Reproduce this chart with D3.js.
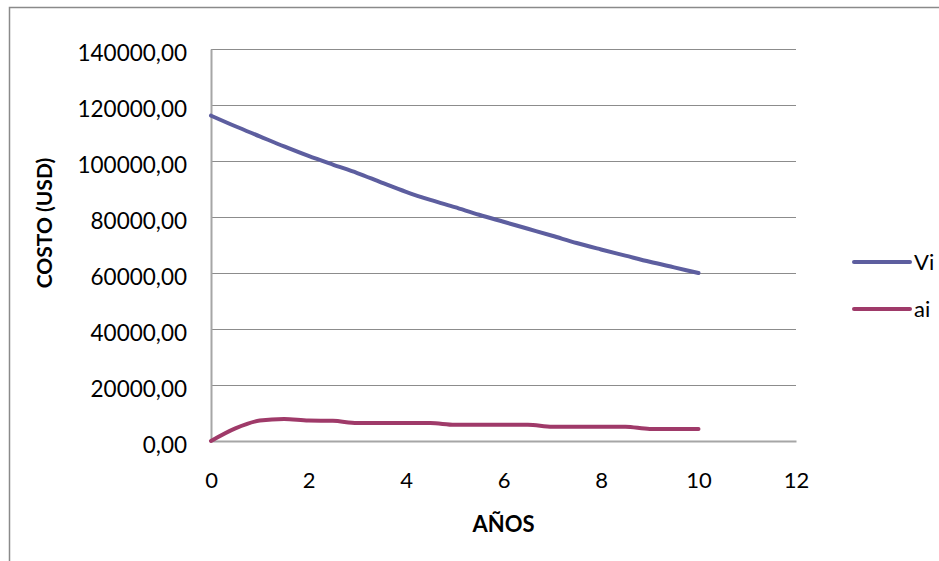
<!DOCTYPE html>
<html>
<head>
<meta charset="utf-8">
<script src="https://cdn.jsdelivr.net/npm/d3@7"></script>
<style>
  html, body { margin: 0; padding: 0; background: #fff; }
  svg { display: block; font-family: Lato, "Open Sans", sans-serif; }
</style>
</head>
<body>
<svg id="chart" width="939" height="561"></svg>
<script>
// Years (half-year steps)
const years = [0, 0.5, 1, 1.5, 2, 2.5, 3, 3.5, 4, 4.5, 5, 5.5, 6, 6.5, 7, 7.5, 8, 8.5, 9, 9.5, 10];
// Vi: remaining value
const vi = [116200, 112400, 108800, 105200, 101800, 98700, 95700, 92300, 89000, 86100, 83500,
            80800, 78300, 75800, 73300, 70700, 68400, 66200, 64000, 62000, 60000];
// ai: annual amount
const ai = [0, 4500, 7300, 7900, 7300, 7200, 6400, 6400, 6400, 6400, 5800,
            5800, 5800, 5800, 5100, 5100, 5100, 5100, 4300, 4300, 4300];
const seriesNames = ["Vi", "ai"];
const seriesColors = ["#5d5e9f", "#9f3a69"];
const yTicks = [0, 20000, 40000, 60000, 80000, 100000, 120000, 140000];
const xTicks = [0, 2, 4, 6, 8, 10, 12];

const svg = d3.select("#chart");
const plot = { left: 211, right: 796, top: 49, bottom: 441 };

const x = d3.scaleLinear().domain([0, 12]).range([plot.left, plot.right]);
const y = d3.scaleLinear().domain([0, 140000]).range([plot.bottom, plot.top]);

// chart frame
svg.append("rect")
  .attr("x", 9.5).attr("y", 7.5)
  .attr("width", 1000).attr("height", 600)
  .attr("fill", "none").attr("stroke", "#8a8a8a").attr("stroke-width", 1.5);

// horizontal gridlines
svg.append("g")
  .selectAll("line")
  .data(yTicks.filter(d => d > 0))
  .join("line")
  .attr("x1", plot.left).attr("x2", plot.right)
  .attr("y1", d => Math.round(y(d)) + 0.5).attr("y2", d => Math.round(y(d)) + 0.5)
  .attr("stroke", "#8c8c8c").attr("stroke-width", 1.2);

// y axis
const fmt = d => d3.format(".2f")(d).replace(".", ",");
const yAxis = svg.append("g")
  .attr("transform", `translate(${plot.left},0)`)
  .call(d3.axisLeft(y).tickValues(yTicks).tickFormat(fmt).tickSize(0).tickPadding(24));
yAxis.select(".domain").attr("stroke", "#a6a6a6").attr("stroke-width", 2);
yAxis.selectAll("text")
  .attr("font-family", "Lato, sans-serif").attr("font-size", 22.5).attr("fill", "#000")
  .attr("dy", "0.5em");

// x axis
const xAxis = svg.append("g")
  .attr("transform", `translate(0,${plot.bottom})`)
  .call(d3.axisBottom(x).tickValues(xTicks).tickFormat(d3.format("d")).tickSize(0).tickPadding(31));
xAxis.select(".domain").attr("stroke", "#a6a6a6").attr("stroke-width", 2);
xAxis.selectAll("text")
  .attr("font-family", "Lato, sans-serif").attr("font-size", 22).attr("fill", "#000");

// axis titles
svg.append("text")
  .attr("x", x(6)).attr("y", 532)
  .attr("text-anchor", "middle")
  .attr("font-size", 22).attr("font-weight", "bold")
  .text("AÑOS");
svg.append("text")
  .attr("transform", "translate(52,223) rotate(-90)")
  .attr("text-anchor", "middle")
  .attr("font-size", 21).attr("font-weight", "bold")
  .text("COSTO (USD)");

// series lines
const line = d3.line().x(d => x(d[0])).y(d => y(d[1])).curve(d3.curveMonotoneX);
const series = [vi, ai];
series.forEach((vals, i) => {
  svg.append("path")
    .datum(years.map((yr, j) => [yr, vals[j]]))
    .attr("d", line)
    .attr("fill", "none")
    .attr("stroke", seriesColors[i])
    .attr("stroke-width", 4)
    .attr("stroke-linejoin", "round")
    .attr("stroke-linecap", "round");
});

// legend
const legend = svg.append("g");
seriesNames.forEach((name, i) => {
  const ly = 262 + i * 47;
  legend.append("line")
    .attr("x1", 854).attr("x2", 910).attr("y1", ly).attr("y2", ly)
    .attr("stroke", seriesColors[i]).attr("stroke-width", 4).attr("stroke-linecap", "round");
  legend.append("text")
    .attr("x", 914).attr("y", ly).attr("dy", "0.35em")
    .attr("font-size", 22).text(name);
});
</script>
</body>
</html>
